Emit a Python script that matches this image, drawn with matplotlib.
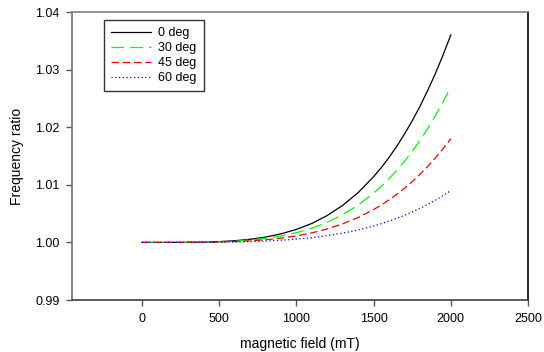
import matplotlib
matplotlib.use("Agg")
import matplotlib.pyplot as plt

plt.rcParams['font.family'] = ['Liberation Sans', 'DejaVu Sans']

field = [0, 100, 200, 300, 400, 500, 600, 700, 800, 900, 1000,
         1100, 1200, 1300, 1400, 1500, 1550, 1600, 1650, 1700, 1750,
         1800, 1850, 1900, 1950, 2000]
deg0 = [1.0, 1.0, 1.000004, 1.000018, 1.000058, 1.00014, 1.00029, 1.00054, 1.00092,
        1.00148, 1.00225, 1.00329, 1.00467, 1.00643, 1.00864, 1.0114, 1.01299,
        1.01475, 1.01668, 1.0188, 1.0211, 1.0236, 1.02636, 1.0293, 1.03253, 1.036]
deg30 = [1.0, 1.0, 1.000003, 1.000014, 1.000044, 1.000105, 1.00022, 1.00041, 1.00069,
         1.00111, 1.00169, 1.00247, 1.0035, 1.00482, 1.00648, 1.00855, 1.00974,
         1.01106, 1.01251, 1.0141, 1.01583, 1.0177, 1.01977, 1.0220, 1.0244, 1.027]
deg45 = [1.0, 1.0, 1.000002, 1.000009, 1.000029, 1.00007, 1.000145, 1.00027, 1.00046,
         1.00074, 1.00113, 1.00165, 1.00234, 1.00322, 1.00432, 1.0057, 1.0065,
         1.00738, 1.00834, 1.0094, 1.01055, 1.0118, 1.01318, 1.01465, 1.01627, 1.018]
deg60 = [1.0, 1.0, 1.000001, 1.0000045, 1.0000145, 1.000035, 1.000073, 1.000135, 1.00023,
         1.00037, 1.00056, 1.00082, 1.00117, 1.00161, 1.00216, 1.00285, 1.00325,
         1.00369, 1.00417, 1.0047, 1.00528, 1.0059, 1.00659, 1.00732, 1.00813, 1.009]
labels = ['0 deg', '30 deg', '45 deg', '60 deg']

fig = plt.figure(figsize=(5.44, 3.52), dpi=100)
ax = fig.add_axes([72/544, 1-300/352, (528-72)/544, (300-12)/352])

ax.plot(field, deg0, color='black', lw=0.9, label=labels[0])
ax.plot(field, deg30, color='#00ff00', lw=0.9, dashes=(10, 5), label=labels[1])
ax.plot(field, deg45, color='#ff0000', lw=0.9, dashes=(6, 3), label=labels[2])
ax.plot(field, deg60, color='#0000ff', lw=0.9, dashes=(1, 2), label=labels[3])

ax.set_xlim(-453, 2500)
ax.set_ylim(0.99, 1.04)
ax.set_xticks([0, 500, 1000, 1500, 2000, 2500])
ax.set_yticks([0.99, 1.00, 1.01, 1.02, 1.03, 1.04])
ax.set_yticklabels(['0.99', '1.00', '1.01', '1.02', '1.03', '1.04'])
ax.tick_params(direction='out', length=4, width=1, labelsize=9, pad=5,
               colors='#555555', labelcolor='black')

ax.spines['left'].set_color('#707070')
ax.spines['top'].set_color('#808080')
ax.spines['bottom'].set_color('#404040')
ax.spines['right'].set_color('black')
for s in ax.spines.values():
    s.set_linewidth(1.2)

ax.set_xlabel('magnetic field (mT)', fontsize=10, labelpad=9)
ax.set_ylabel('Frequency ratio', fontsize=10, labelpad=8)

leg = ax.legend(loc='upper left', bbox_to_anchor=((104-72)/456, 1-(20-12)/288),
                fontsize=9, frameon=True, fancybox=False, handlelength=3.2,
                borderpad=0.55, labelspacing=0.25, handletextpad=0.6, borderaxespad=0)
leg.get_frame().set_edgecolor('black')
leg.get_frame().set_linewidth(1.0)

fig.savefig('out.png', dpi=100)
